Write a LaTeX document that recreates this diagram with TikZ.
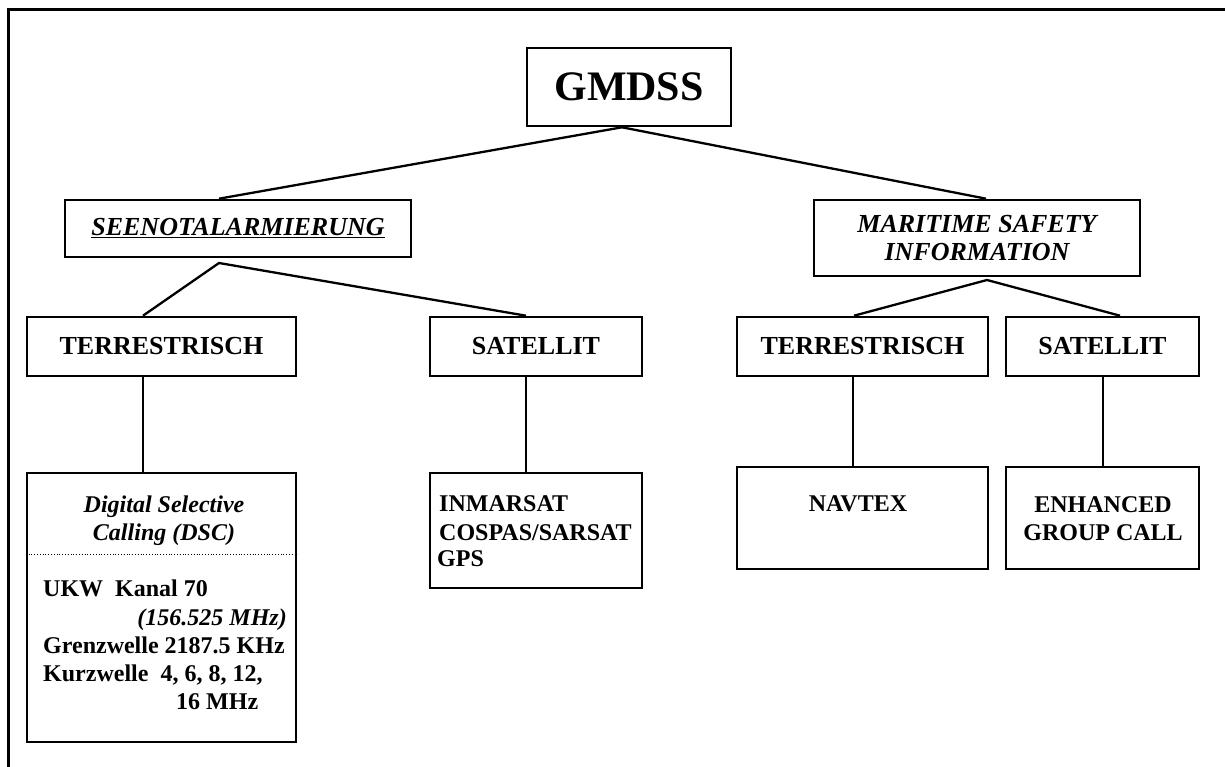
\documentclass[tikz,border=0pt]{standalone}
\usepackage{fontspec}
\setmainfont{Liberation Serif}
\usetikzlibrary{positioning}

\begin{document}
\begin{tikzpicture}[x=1pt, y=-1pt,
		box/.style={draw, line width=2.6pt, rectangle, inner sep=0pt, align=center},
		head/.style={font=\fontsize{26}{28}\selectfont\bfseries},
		entry/.style={font=\fontsize{24}{28}\selectfont\bfseries, inner sep=0pt},
		link/.style={line width=2.3pt}
	]
	\useasboundingbox (0,0) rectangle (1225,767);
	\draw[line width=3pt] (8,767) -- (8,10) -- (1225,10);

	% Top level
	\node[box, minimum width=204pt, minimum height=78pt, font=\fontsize{42}{46}\selectfont\bfseries] (gmdss) at (629,87) {GMDSS};
	\node[box, head, minimum width=346pt, minimum height=57pt] (seenot) at (238,228.5) {\itshape\underline{SEENOTALARMIERUNG}};
	\node[box, head, minimum width=326pt, minimum height=76pt] (msi) at (977,238) {\itshape MARITIME SAFETY\\\itshape INFORMATION};
	\draw[link] ([xshift=-7pt]gmdss.south) -- ([xshift=-19pt]seenot.north);
	\draw[link] ([xshift=-7pt]gmdss.south) -- ([xshift=9pt]msi.north);

	% Second level
	\node[box, head, minimum width=269pt, minimum height=59pt] (terrl) at (161.5,346.5) {TERRESTRISCH};
	\node[box, head, minimum width=212pt, minimum height=59pt] (satl) at (536,346.5) {SATELLIT};
	\node[box, head, minimum width=251pt, minimum height=59pt] (terrr) at (862.5,346.5) {TERRESTRISCH};
	\node[box, head, minimum width=193pt, minimum height=59pt] (satr) at (1102.5,346.5) {SATELLIT};
	\coordinate (seenotfork) at (219,263);
	\coordinate (msifork) at (987,280);
	\draw[link] ([xshift=-18.5pt]terrl.north) -- (seenotfork) -- ([xshift=-10pt]satl.north);
	\draw[link] ([xshift=-8.5pt]terrr.north) -- (msifork) -- ([xshift=17.5pt]satr.north);

	% Third level
	\node[box, minimum width=269pt, minimum height=269pt] (dsc) at (161.5,607.5) {};
	\node[box, minimum width=212pt, minimum height=115pt] (inmarsat) at (536,530.5) {};
	\node[box, minimum width=251pt, minimum height=102pt] (navtex) at (862.5,518) {};
	\node[box, minimum width=193pt, minimum height=102pt] (egc) at (1102.5,518) {};
	\draw[link] ([xshift=-18.5pt]terrl.south) -- ([xshift=-18.5pt]dsc.north);
	\draw[link] ([xshift=-10pt]satl.south) -- ([xshift=-10pt]inmarsat.north);
	\draw[link] ([xshift=-9.5pt]terrr.south) -- ([xshift=-9.5pt]navtex.north);
	\draw[link] ([xshift=0.5pt]satr.south) -- ([xshift=0.5pt]egc.north);

	% DSC box
	\node[entry, font=\fontsize{24}{28}\selectfont\bfseries\itshape, align=center, anchor=base] (dsctitle) at (164,540) {Digital Selective\\Calling (DSC)};
	\draw[dotted, line width=0.8pt] (dsc.west |- 0,554) -- (dsc.east |- 0,554);
	\node[entry, anchor=base west] (ukw) at (43,596) {UKW\ \ Kanal 70};
	\node[entry, anchor=base east] (ukwfreq) at (287,625) {\itshape (156.525 MHz)};
	\node[entry, anchor=base west] (grenz) at (43,653) {Grenzwelle 2187.5 KHz};
	\node[entry, anchor=base west] (kurz) at (43,681) {Kurzwelle\ \ 4, 6, 8, 12,};
	\node[entry, anchor=base west] (kurzmhz) at (176,709) {16 MHz};

	% Satellite systems
	\node[entry, anchor=base west] (inm) at (439,511) {INMARSAT};
	\node[entry, anchor=base west] (cospas) at (439,540) {COSPAS/SARSAT};
	\node[entry, anchor=base west] (gps) at (437,566) {GPS};

	% MSI services
	\node[entry, anchor=base] (navtextxt) at (858,511) {NAVTEX};
	\node[entry, anchor=base, align=center] (egctxt) at (1103,540) {ENHANCED\\GROUP CALL};
\end{tikzpicture}
\end{document}
